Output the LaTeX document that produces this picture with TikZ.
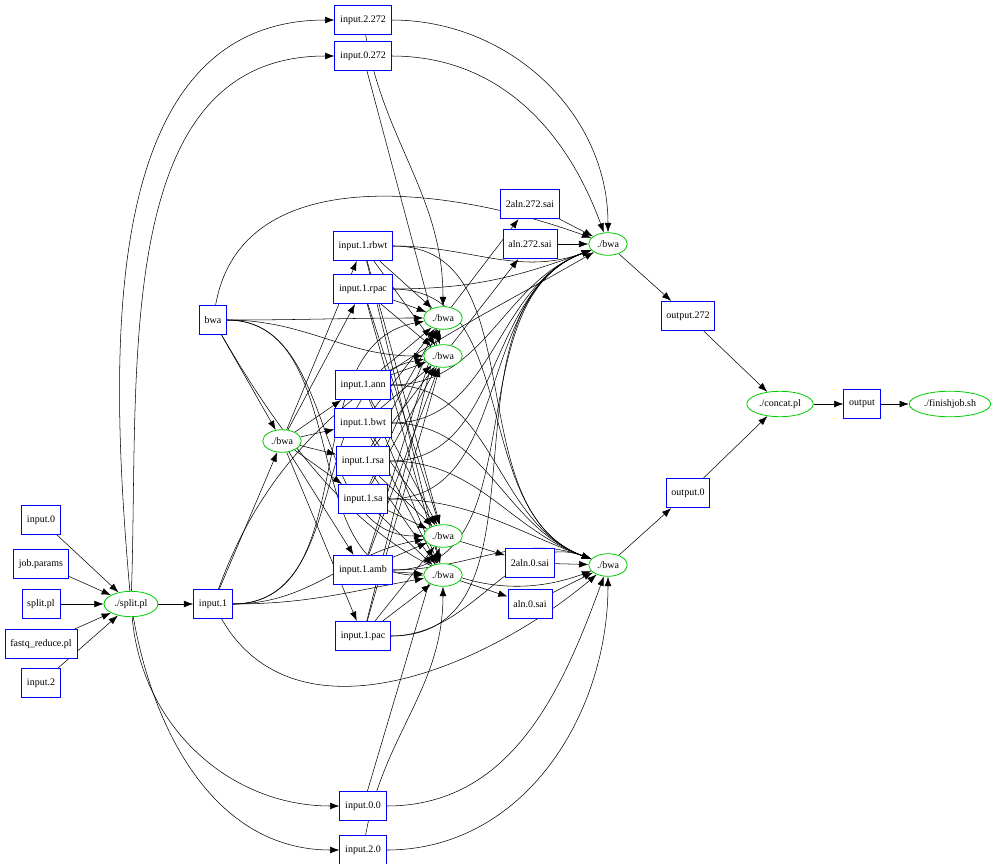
\documentclass[tikz,border=0pt]{standalone}
\usepackage{fontspec}
\setmainfont{Liberation Serif}
\usetikzlibrary{arrows.meta,shapes.geometric,backgrounds}
\begin{document}
\begin{tikzpicture}[x=0.75pt,y=-0.75pt,
  fbox/.style={draw=blue,line width=0.6pt,fill=white,minimum height=22pt,inner xsep=4pt,font=\fontsize{7.5}{9}\selectfont},
  proc/.style={draw=green!80!black,line width=0.6pt,ellipse,fill=white,minimum height=16pt,inner xsep=2pt,font=\fontsize{7.5}{9}\selectfont},
  e/.style={-{Latex[length=7pt,width=5pt]},black,thin}]
\useasboundingbox (0,0) rectangle (1000,864);
\node[fbox] (in0) at (41,520) {input.0};
\node[fbox] (jobp) at (41,564) {job.params};
\node[fbox] (splpl) at (41,604) {split.pl};
\node[fbox] (fastq) at (41,644) {fastq\_reduce.pl};
\node[fbox] (in2) at (41,683) {input.2};
\node[proc] (splitE) at (131,604) {./split.pl};
\node[fbox] (in1) at (213,604) {input.1};
\node[fbox] (bwa) at (213,320) {bwa};
\node[proc] (bwaI) at (282,441) {./bwa};
\node[fbox] (i2272) at (363,20) {input.2.272};
\node[fbox] (i0272) at (363,56) {input.0.272};
\node[fbox] (rbwt) at (363,246) {input.1.rbwt};
\node[fbox] (rpac) at (363,289) {input.1.rpac};
\node[fbox] (ann) at (363,385) {input.1.ann};
\node[fbox] (bwt) at (363,423) {input.1.bwt};
\node[fbox] (rsa) at (363,461) {input.1.rsa};
\node[fbox] (sa) at (363,499) {input.1.sa};
\node[fbox] (amb) at (363,570) {input.1.amb};
\node[fbox] (pac) at (363,636) {input.1.pac};
\node[fbox] (i00) at (363,806) {input.0.0};
\node[fbox] (i20) at (363,850) {input.2.0};
\node[proc] (A1) at (443,318) {./bwa};
\node[proc] (A2) at (443,356) {./bwa};
\node[proc] (A3) at (443,536) {./bwa};
\node[proc] (A4) at (443,575) {./bwa};
\node[fbox] (s2a272) at (530,204) {2aln.272.sai};
\node[fbox] (sa272) at (530,244) {aln.272.sai};
\node[fbox] (s2a0) at (530,563) {2aln.0.sai};
\node[fbox] (sa0) at (530,604) {aln.0.sai};
\node[proc] (S1) at (608,244) {./bwa};
\node[proc] (S2) at (608,565) {./bwa};
\node[fbox] (o272) at (688,316) {output.272};
\node[fbox] (o0) at (688,493) {output.0};
\node[proc] (concat) at (780,404) {./concat.pl};
\node[fbox] (out) at (862,404) {output};
\node[proc] (fin) at (950,404) {./finishjob.sh};
\begin{scope}[on background layer]
\foreach \n in {in0,jobp,splpl,fastq,in2} \draw[e] (\n) -- (splitE);
\draw[e] (splitE) -- (in1);
\draw[e] (splitE) to[out=95,in=180] (i2272);
\draw[e] (splitE) to[out=88,in=180] (i0272);
\draw[e] (splitE) to[out=-85,in=180] (i00);
\draw[e] (splitE) to[out=-80,in=180] (i20);
\draw[e] (in1) -- (bwaI);
\draw[e] (bwa) -- (bwaI);
\foreach \n in {rbwt,rpac,ann,bwt,rsa,sa,amb,pac} {
  \draw[e] (bwaI) -- (\n);
  \foreach \a in {A1,A2,A3,A4} \draw[e] (\n) -- (\a);
  \draw[e] (\n) to[out=0,in=200] (S1);
  \draw[e] (\n) to[out=0,in=160] (S2);
}
\foreach \a in {A1,A2,A3,A4} {\draw[e] (bwa) to[out=0,in=180] (\a); \draw[e] (in1) to[out=0,in=190] (\a);}
\draw[e] (bwa) to[out=80,in=160] (S1);
\draw[e] (bwa) to[out=-60,in=200] (S2);
\draw[e] (in1) to[out=70,in=210] (S1);
\draw[e] (in1) to[out=-60,in=220] (S2);
\draw[e] (i2272) to[out=-80,in=90] (A1);
\draw[e] (i0272) -- (A2);
\draw[e] (i2272) to[out=0,in=90] (S1);
\draw[e] (i0272) to[out=0,in=110] (S1);
\draw[e] (i00) -- (A3);
\draw[e] (i20) to[out=80,in=-90] (A4);
\draw[e] (i00) to[out=0,in=-110] (S2);
\draw[e] (i20) to[out=0,in=-90] (S2);
\draw[e] (A1) -- (s2a272);
\draw[e] (A2) -- (sa272);
\draw[e] (A3) -- (s2a0);
\draw[e] (A4) -- (sa0);
\draw[e] (s2a272) -- (S1);
\draw[e] (sa272) -- (S1);
\draw[e] (s2a0) -- (S2);
\draw[e] (sa0) -- (S2);
\draw[e] (S1) -- (o272);
\draw[e] (S2) -- (o0);
\draw[e] (o272) -- (concat);
\draw[e] (o0) -- (concat);
\draw[e] (concat) -- (out);
\draw[e] (out) -- (fin);
\end{scope}
\end{tikzpicture}
\end{document}
